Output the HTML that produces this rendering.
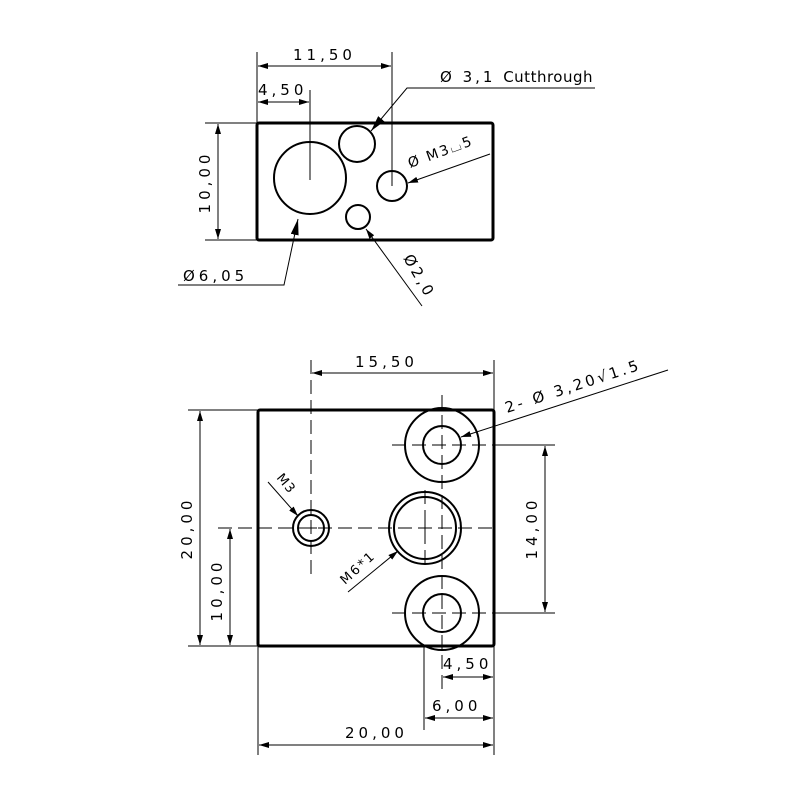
<!DOCTYPE html>
<html><head><meta charset="utf-8"><style>
html,body{margin:0;padding:0;background:#fff}
svg{display:block}
text{font-family:"DejaVu Sans","Liberation Sans",sans-serif;font-size:15px;fill:#000;letter-spacing:4px}
</style></head><body>
<svg width="800" height="800" viewBox="0 0 800 800" xmlns="http://www.w3.org/2000/svg">
<defs>
<marker id="a" viewBox="0 0 10 6" refX="10" refY="3" markerWidth="10" markerHeight="6" markerUnits="userSpaceOnUse" orient="auto-start-reverse"><path d="M0,0L10,3L0,6z" fill="#000"/></marker>
<marker id="b" viewBox="0 0 16 8" refX="16" refY="4" markerWidth="16" markerHeight="8" markerUnits="userSpaceOnUse" orient="auto"><path d="M0,0L16,4L0,8z" fill="#000"/></marker>
</defs>
<g fill="none" stroke="#000">
<rect x="257" y="123" width="236" height="117" rx="2" stroke-width="3"/>
<circle cx="310" cy="178" r="36" stroke-width="2"/>
<circle cx="357" cy="144" r="18" stroke-width="2"/>
<circle cx="392" cy="186" r="15" stroke-width="2"/>
<circle cx="358" cy="217" r="12" stroke-width="2"/>
<g stroke-width="1">
<line x1="257" y1="52" x2="257" y2="123"/>
<line x1="392" y1="52" x2="392" y2="186"/>
<line x1="310" y1="90" x2="310" y2="180"/>
<line x1="258" y1="66" x2="391" y2="66" marker-start="url(#a)" marker-end="url(#a)"/>
<line x1="258" y1="102" x2="309" y2="102" marker-start="url(#a)" marker-end="url(#a)"/>
<line x1="205" y1="123" x2="257" y2="123"/>
<line x1="205" y1="240" x2="257" y2="240"/>
<line x1="218" y1="124" x2="218" y2="239" marker-start="url(#a)" marker-end="url(#a)"/>
<polyline points="595,88 407,88 371,131" marker-end="url(#b)"/>
<line x1="490" y1="154" x2="408" y2="183" marker-end="url(#a)"/>
<polyline points="178,285 284,285 298,219" marker-end="url(#b)"/>
<line x1="422" y1="306" x2="366" y2="229" marker-end="url(#a)"/>
</g>
<rect x="258" y="410" width="236" height="236" rx="2" stroke-width="3"/>
<circle cx="311" cy="528" r="18" stroke-width="2"/>
<circle cx="311" cy="528" r="13" stroke-width="2"/>
<circle cx="425" cy="528" r="36" stroke-width="2"/>
<circle cx="425" cy="528" r="31" stroke-width="2"/>
<circle cx="442" cy="445" r="37" stroke-width="2"/>
<circle cx="442" cy="445" r="19" stroke-width="2"/>
<circle cx="442" cy="613" r="37" stroke-width="2"/>
<circle cx="442" cy="613" r="19" stroke-width="2"/>
<g stroke-width="1" stroke-dasharray="14,6">
<line x1="218" y1="528" x2="494" y2="528"/>
<line x1="311" y1="360" x2="311" y2="577"/>
<line x1="425" y1="490" x2="425" y2="570"/>
<line x1="442" y1="395" x2="442" y2="690"/>
<line x1="392" y1="445" x2="494" y2="445"/>
<line x1="392" y1="613" x2="494" y2="613"/>
</g>
<g stroke-width="1">
<line x1="305" y1="528" x2="317" y2="528"/><line x1="311" y1="522" x2="311" y2="534"/>
<line x1="418" y1="528" x2="432" y2="528"/><line x1="425" y1="521" x2="425" y2="535"/>
<line x1="494" y1="445" x2="555" y2="445"/>
<line x1="494" y1="613" x2="555" y2="613"/>
<line x1="424" y1="646" x2="424" y2="730"/>
<line x1="494" y1="360" x2="494" y2="755"/>
<line x1="258" y1="646" x2="258" y2="755"/>
<line x1="312" y1="373" x2="493" y2="373" marker-start="url(#a)" marker-end="url(#a)"/>
<line x1="188" y1="410" x2="258" y2="410"/>
<line x1="188" y1="646" x2="258" y2="646"/>
<line x1="200" y1="411" x2="200" y2="645" marker-start="url(#a)" marker-end="url(#a)"/>
<line x1="230" y1="529" x2="230" y2="645" marker-start="url(#a)" marker-end="url(#a)"/>
<line x1="545" y1="446" x2="545" y2="612" marker-start="url(#a)" marker-end="url(#a)"/>
<line x1="443" y1="677" x2="493" y2="677" marker-start="url(#a)" marker-end="url(#a)"/>
<line x1="425" y1="718" x2="493" y2="718" marker-start="url(#a)" marker-end="url(#a)"/>
<line x1="259" y1="745" x2="493" y2="745" marker-start="url(#a)" marker-end="url(#a)"/>
<line x1="668" y1="370" x2="461" y2="437" marker-end="url(#a)"/>
<line x1="268" y1="482" x2="298" y2="516" marker-end="url(#a)"/>
<line x1="348" y1="592" x2="398" y2="551" marker-end="url(#a)"/>
</g>
</g>
<text x="293" y="60">11,50</text>
<text x="258" y="95">4,50</text>
<text transform="translate(210,182) rotate(-90)" text-anchor="middle">10,00</text>
<text x="440" y="82" style="letter-spacing:3px">Ø 3,1 <tspan style="letter-spacing:0.5px">Cutthrough</tspan></text>
<text transform="translate(410,168) rotate(-20)" style="font-size:14px;letter-spacing:2px">Ø M3⌴5</text>
<text x="183" y="281">Ø6,05</text>
<text transform="translate(403,258) rotate(60)" style="letter-spacing:3px">Ø2,0</text>
<text x="355" y="367">15,50</text>
<text transform="translate(507,413) rotate(-18)" style="letter-spacing:3px">2- Ø 3,20√1.5</text>
<text transform="translate(276,478) rotate(50)" style="font-size:13px;letter-spacing:1px">M3</text>
<text transform="translate(345,585) rotate(-42)" style="font-size:13px;letter-spacing:2px">M6*1</text>
<text transform="translate(192,528) rotate(-90)" text-anchor="middle">20,00</text>
<text transform="translate(222,590) rotate(-90)" text-anchor="middle">10,00</text>
<text transform="translate(537,528) rotate(-90)" text-anchor="middle">14,00</text>
<text x="443" y="669">4,50</text>
<text x="432" y="711">6,00</text>
<text x="345" y="738">20,00</text>
</svg>
</body></html>
